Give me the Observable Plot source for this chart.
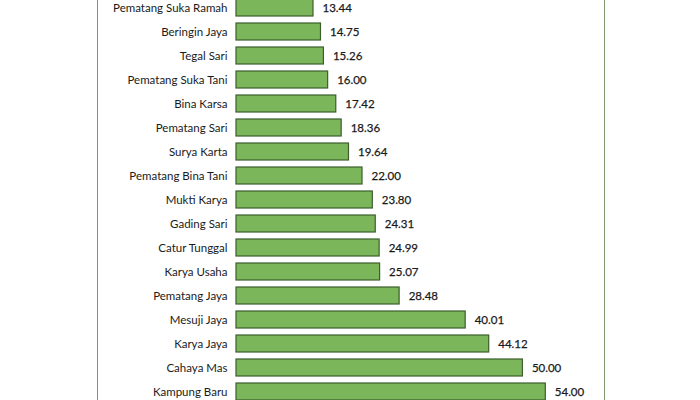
<!DOCTYPE html>
<html>
<head>
<meta charset="utf-8">
<script src="https://cdn.jsdelivr.net/npm/d3@7"></script>
<script src="https://cdn.jsdelivr.net/npm/@observablehq/plot@0.6"></script>
<style>
  body { margin: 0; background: #fff; }
  #wrap { position: relative; width: 700px; height: 400px; overflow: hidden; }
  #frame { position: absolute; left: 97px; top: 0; width: 506px; height: 400px;
           border-left: 1.5px solid #7d9a72; border-right: 1.5px solid #7d9a72; pointer-events: none; }
  svg { display: block; }
</style>
</head>
<body>
<div id="wrap"><div id="frame"></div></div>
<script>
const villages = [
  "Pematang Suka Ramah", "Beringin Jaya", "Tegal Sari", "Pematang Suka Tani",
  "Bina Karsa", "Pematang Sari", "Surya Karta", "Pematang Bina Tani",
  "Mukti Karya", "Gading Sari", "Catur Tunggal", "Karya Usaha",
  "Pematang Jaya", "Mesuji Jaya", "Karya Jaya", "Cahaya Mas", "Kampung Baru"
];
const values = [
  13.44, 14.75, 15.26, 16.00,
  17.42, 18.36, 19.64, 22.00,
  23.80, 24.31, 24.99, 25.07,
  28.48, 40.01, 44.12, 50.00, 54.00
];

const data = villages.map((name, i) => ({name, value: values[i]}));

const chart = Plot.plot({
  width: 700,
  height: 400,
  marginLeft: 236,
  marginRight: 154.7,
  marginTop: 0,
  marginBottom: 0,
  style: {fontFamily: "Lato, sans-serif", fontSize: "11.5px", color: "#1a1a1a", background: "transparent"},
  x: {domain: [0, 54], axis: null},
  y: {domain: villages, range: [-11.35, 411.5], padding: 0.28, label: null},
  marks: [
    Plot.barX(data, {y: "name", x: "value", fill: "#7cb65a", stroke: "#3d5e2c", strokeWidth: 1.2}),
    Plot.ruleX([0], {stroke: "#b5b5b5", strokeWidth: 2, y1: -20, y2: 420}),
    Plot.axisY({tickSize: 0, tickPadding: 9, fill: "#1a1a1a", fontSize: 11.5, stroke: "#1a1a1a", strokeWidth: 0.25}),
    Plot.text(data, {y: "name", x: "value", text: d => d.value.toFixed(2), dx: 9, textAnchor: "start", fill: "#1a1a1a", fontSize: 11.5, stroke: "#1a1a1a", strokeWidth: 0.25})
  ]
});
document.getElementById("wrap").appendChild(chart);
</script>
</body>
</html>
